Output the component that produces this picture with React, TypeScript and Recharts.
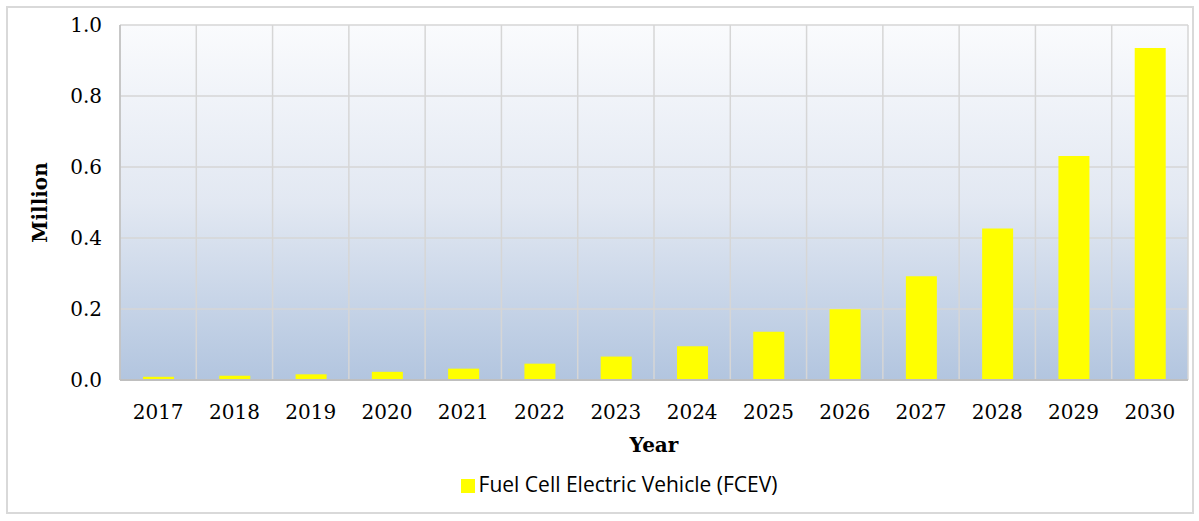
import React from 'react';
import { BarChart, Bar, XAxis, YAxis, CartesianGrid, Legend } from 'recharts';

const years = ['2017', '2018', '2019', '2020', '2021', '2022', '2023', '2024', '2025', '2026', '2027', '2028', '2029', '2030'];
const fcev = [0.009, 0.012, 0.016, 0.023, 0.032, 0.046, 0.066, 0.095, 0.136, 0.199, 0.292, 0.427, 0.631, 0.935];
const yTicks = [0, 0.2, 0.4, 0.6, 0.8, 1.0];

const data = years.map((year, i) => ({ year, fcev: fcev[i] }));

const serif = '"DejaVu Serif", serif';

export default function App() {
  return (
    <div
      style={{
        position: 'absolute',
        left: 6,
        top: 6,
        width: 1188,
        height: 508,
        border: '2px solid #d9d9d9',
        boxSizing: 'border-box',
      }}
    >
      <BarChart
        width={1184}
        height={504}
        data={data}
        margin={{ top: 17, right: 4, left: 52, bottom: 14 }}
        barSize={31}
      >
        <defs>
          <linearGradient id="plotBg" x1="0" y1="0" x2="0" y2="1">
            <stop offset="0%" stopColor="#fafbfd" />
            <stop offset="50%" stopColor="#e2e8f2" />
            <stop offset="100%" stopColor="#b2c5df" />
          </linearGradient>
        </defs>
        <CartesianGrid
          fill="url(#plotBg)"
          stroke="#d6d6d6"
          strokeWidth={1.5}
          verticalCoordinatesGenerator={({ offset }: any) =>
            Array.from({ length: years.length + 1 }, (_, i) => offset.left + (i * offset.width) / years.length)
          }
        />
        <XAxis
          dataKey="year"
          height={90}
          tickLine={false}
          axisLine={{ stroke: '#bfbfbf', strokeWidth: 2 }}
          tickMargin={19}
          tick={{ fill: '#000', fontSize: 20, fontFamily: serif }}
          label={{
            value: 'Year',
            position: 'insideTop',
            offset: 58,
            style: { fill: '#000', fontSize: 20, fontWeight: 'bold', fontFamily: serif },
          }}
        />
        <YAxis
          width={60}
          domain={[0, 1]}
          ticks={yTicks}
          tickFormatter={(v: number) => v.toFixed(1)}
          tickLine={false}
          axisLine={{ stroke: '#bfbfbf', strokeWidth: 1.5 }}
          tickMargin={12}
          tick={{ fill: '#000', fontSize: 20, fontFamily: serif }}
          label={{
            value: 'Million',
            angle: -90,
            position: 'insideLeft',
            offset: -20,
            style: { fill: '#000', fontSize: 20, fontWeight: 'bold', fontFamily: serif, textAnchor: 'middle' },
          }}
        />
        <Legend
          verticalAlign="bottom"
          iconType="square"
          iconSize={14}
          wrapperStyle={{ fontFamily: '"Open Sans", sans-serif', fontSize: 21, color: '#000' }}
          formatter={(value: string) => <span style={{ color: '#000' }}>{value}</span>}
        />
        <Bar
          dataKey="fcev"
          name="Fuel Cell Electric Vehicle (FCEV)"
          fill="#ffff00"
          isAnimationActive={false}
        />
      </BarChart>
    </div>
  );
}
